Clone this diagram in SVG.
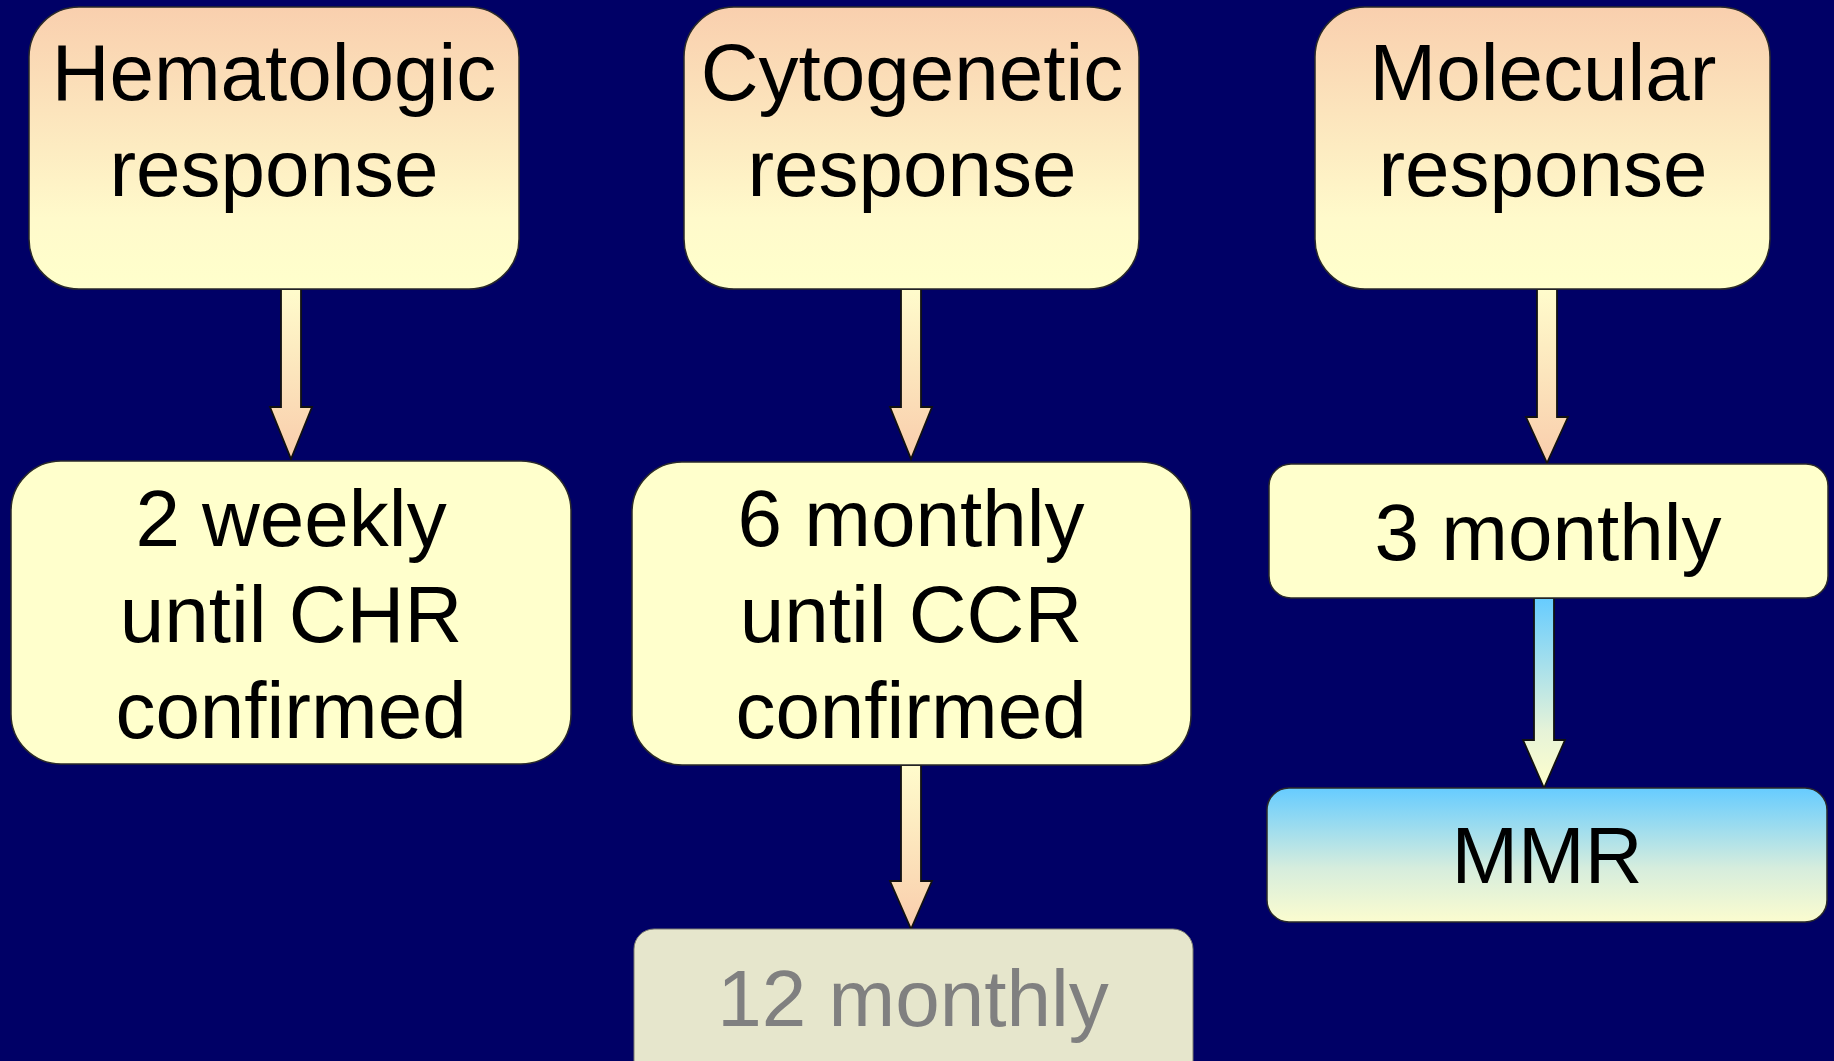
<svg xmlns="http://www.w3.org/2000/svg" width="1834" height="1061" viewBox="0 0 1834 1061">
<defs>
<linearGradient id="gTop" x1="0" y1="0" x2="0" y2="1">
<stop offset="0" stop-color="#f9cfae"/>
<stop offset="0.75" stop-color="#fffacb"/>
<stop offset="1" stop-color="#ffffcc"/>
</linearGradient>
<linearGradient id="gArrow" x1="0" y1="0" x2="0" y2="1">
<stop offset="0" stop-color="#fffccc"/>
<stop offset="1" stop-color="#f9cdac"/>
</linearGradient>
<linearGradient id="gBlueArrow" x1="0" y1="0" x2="0" y2="1">
<stop offset="0" stop-color="#66ccff"/>
<stop offset="0.7" stop-color="#e6f3d8"/>
<stop offset="1" stop-color="#ffffcc"/>
</linearGradient>
<linearGradient id="gMMR" x1="0" y1="0" x2="0" y2="1">
<stop offset="0" stop-color="#66ccff"/>
<stop offset="0.6" stop-color="#d6eddd"/>
<stop offset="1" stop-color="#fbfccf"/>
</linearGradient>
<style>
.box{stroke:#2a2a2a;stroke-width:1.5}
.top{fill:url(#gTop)}
.pale{fill:#ffffcc}
.grey{fill:#e6e6cc;stroke:#7a7a70;stroke-width:1}
.arrow{fill:url(#gArrow);stroke:#111;stroke-width:1.8;stroke-linejoin:miter}
.barrow{fill:url(#gBlueArrow);stroke:#111;stroke-width:1.8}
text{font-family:"Liberation Sans",Arial,sans-serif;font-size:80px;text-anchor:middle;fill:#000}
.gt{fill:#808080}
</style>
</defs>
<rect width="1834" height="1061" fill="#000066"/>

<g id="connectors">
<polygon class="arrow" points="281,289 301,289 301,407 312,407 291,459 270,407 281,407"/>
<polygon class="arrow" points="901,289 921,289 921,407 932,407 911,459 890,407 901,407"/>
<polygon class="arrow" points="901,765 921,765 921,881 932,881 911,929 890,881 901,881"/>
<polygon class="arrow" points="1537,289 1557,289 1557,417 1568,417 1547,463 1526,417 1537,417"/>
<polygon class="barrow" points="1534,598 1554,598 1554,740 1565,740 1544,788 1523,740 1534,740"/>
</g>

<g id="hematologic">
<rect class="box top" x="29" y="7" width="490" height="282" rx="50"/>
<text x="274" y="100">Hematologic</text>
<text x="274" y="196">response</text>
</g>
<g id="cytogenetic">
<rect class="box top" x="684" y="7" width="455" height="282" rx="50"/>
<text x="912" y="100">Cytogenetic</text>
<text x="912" y="196">response</text>
</g>
<g id="molecular">
<rect class="box top" x="1315" y="7" width="455" height="282" rx="50"/>
<text x="1543" y="100">Molecular</text>
<text x="1543" y="196">response</text>
</g>
<g id="two-weekly">
<rect class="box pale" x="11" y="461" width="560" height="303" rx="50"/>
<text x="291" y="546">2 weekly</text>
<text x="291" y="642">until CHR</text>
<text x="291" y="738">confirmed</text>
</g>
<g id="six-monthly">
<rect class="box pale" x="632" y="462" width="559" height="303" rx="50"/>
<text x="911" y="546">6 monthly</text>
<text x="911" y="642">until CCR</text>
<text x="911" y="738">confirmed</text>
</g>
<g id="twelve-monthly">
<rect class="grey" x="634" y="929" width="559" height="160" rx="20"/>
<text class="gt" x="913" y="1026">12 monthly</text>
</g>
<g id="three-monthly">
<rect class="box pale" x="1269" y="464" width="559" height="134" rx="22"/>
<text x="1548" y="560">3 monthly</text>
</g>
<g id="mmr">
<rect class="box" fill="url(#gMMR)" x="1267" y="788" width="560" height="134" rx="22"/>
<text x="1547" y="883">MMR</text>
</g>
</svg>
